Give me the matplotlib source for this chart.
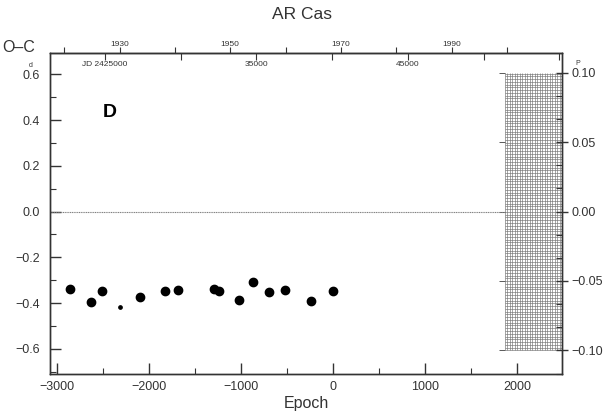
import matplotlib
matplotlib.use('Agg')
import matplotlib.pyplot as plt
import numpy as np
from matplotlib.ticker import MultipleLocator, FixedLocator, FixedFormatter, FuncFormatter

plt.rcParams['font.family'] = ['Liberation Sans', 'DejaVu Sans']

# ephemeris used for the O-C values
period = 6.0663
t0 = 2440070.0

# times of minima (epoch, O-C in days)
epoch = [-2859, -2634, -2514, -2105, -1834, -1685, -1297, -1236,
         -1025, -873, -699, -518, -239, 3]
oc = [-0.337, -0.395, -0.347, -0.375, -0.345, -0.341, -0.340, -0.345,
      -0.385, -0.308, -0.353, -0.341, -0.389, -0.348]
# low weight minimum
epoch_low = [-2323]
oc_low = [-0.415]

epoch_ticks = [-3000, -2000, -1000, 0, 1000, 2000]
oc_ticks = [-0.6, -0.4, -0.2, 0.0, 0.2, 0.4, 0.6]
oc_labels = ['\u22120.6', '\u22120.4', '\u22120.2', '0.0', '0.2', '0.4', '0.6']
phase_ticks = [-0.10, -0.05, 0.0, 0.05, 0.10]
phase_labels = ['\u22120.10', '\u22120.05', '0.00', '0.05', '0.10']
jd_ticks = [2425000, 2435000, 2445000]
jd_labels = ['JD 2425000', '35000', '45000']
jd_minor = [2430000, 2440000, 2450000, 2455000]
year_ticks = [1930, 1950, 1970, 1990]
year_minor = [1920, 1940, 1960, 1980, 2000, 2010]


def e2jd(e):
    return t0 + period * np.asarray(e, dtype=float)


def jd2e(jd):
    return (np.asarray(jd, dtype=float) - t0) / period


def e2yr(e):
    return 1900.0 + (e2jd(e) - 2415020.5) / 365.25


def yr2e(y):
    return jd2e(2415020.5 + (np.asarray(y, dtype=float) - 1900.0) * 365.25)


fig = plt.figure(figsize=(6.05, 4.17), dpi=100)
ax = fig.add_axes([0.0826, 0.103, 0.8463, 0.771])
ax.set_xlim(-3080, 2490)
ax.set_ylim(-0.71, 0.695)

ink = '#333333'
for s in ax.spines.values():
    s.set_color(ink)
    s.set_linewidth(1.0)

# hatched block of the prediction area
grid_x0, grid_x1 = 1870, 2490
gy = 0.10 * period
ax.vlines(np.arange(grid_x0, grid_x1, 27), -gy, gy, color='0.45', lw=0.45, zorder=1)
ax.hlines(np.arange(-gy, gy + 1e-6, 0.0121), grid_x0, grid_x1, color='0.45', lw=0.45, zorder=1)
ax.hlines(np.array(phase_ticks) * period, grid_x0 - 60, grid_x0, color='0.35', lw=0.7)

# zero line
xmin, xmax = ax.get_xlim()
ax.axhline(0.0, xmin=0, xmax=(grid_x0 - xmin) / (xmax - xmin), color='0.5', lw=0.8, ls=(0, (1, 0.6)))

ax.plot(epoch, oc, 'o', color='black', ms=6, zorder=3)
ax.plot(epoch_low, oc_low, 'o', color='black', ms=2.4, zorder=3)

ax.xaxis.set_major_locator(FixedLocator(epoch_ticks))
ax.xaxis.set_major_formatter(FuncFormatter(lambda v, p: f'{v:.0f}'.replace('-', '\u2212')))
ax.xaxis.set_minor_locator(MultipleLocator(500))
ax.yaxis.set_major_locator(FixedLocator(oc_ticks))
ax.yaxis.set_major_formatter(FixedFormatter(oc_labels))
ax.yaxis.set_minor_locator(MultipleLocator(0.1))
ax.tick_params(which='both', direction='in', top=False, right=False, colors=ink, labelsize=9)
ax.tick_params(which='major', length=8, width=1.0)
ax.tick_params(which='minor', length=4, width=0.8)
ax.tick_params(axis='x', pad=5)
ax.tick_params(axis='y', pad=7)

# units marks over the decimal points
ax.annotate('d', xy=(0, oc_ticks[-1]), xycoords=('axes fraction', 'data'),
            xytext=(-19, 9), textcoords='offset pixels', fontsize=5, color=ink,
            ha='center', va='center')

# phase axis on the right
ax2 = ax.twinx()
ax2.set_ylim(np.array(ax.get_ylim()) / period)
ax2.yaxis.set_major_locator(FixedLocator(phase_ticks))
ax2.yaxis.set_major_formatter(FixedFormatter(phase_labels))
ax2.yaxis.set_minor_locator(MultipleLocator(0.05 / 3))
ax2.tick_params(which='major', direction='inout', length=9, width=1.0, colors=ink, labelsize=9, pad=2)
ax2.tick_params(which='minor', direction='in', length=4, width=0.8, colors=ink)
for s in ax2.spines.values():
    s.set_color(ink)
    s.set_linewidth(1.0)
ax2.annotate('P', xy=(1, phase_ticks[-1]), xycoords=('axes fraction', 'data'),
             xytext=(16, 9), textcoords='offset pixels', fontsize=5, color=ink,
             ha='center', va='center')

# JD scale, inside the top edge
axj = ax.secondary_xaxis('top', functions=(e2jd, jd2e))
axj.xaxis.set_major_locator(FixedLocator(jd_ticks))
axj.xaxis.set_major_formatter(FixedFormatter(jd_labels))
axj.xaxis.set_minor_locator(FixedLocator(jd_minor))
axj.tick_params(which='both', direction='in', length=5, width=0.8, colors=ink, labelsize=6, pad=-11)
axj.spines['top'].set_color(ink)

# calendar years, outside the top edge
axy = ax.secondary_xaxis('top', functions=(e2yr, yr2e))
axy.xaxis.set_major_locator(FixedLocator(year_ticks))
axy.xaxis.set_major_formatter(FuncFormatter(lambda v, p: f'{v:.0f}'))
axy.xaxis.set_minor_locator(FixedLocator(year_minor))
axy.tick_params(which='both', direction='out', length=4, width=0.8, colors=ink, labelsize=6, pad=-1)
axy.spines['top'].set_color(ink)

fig.text(0.5, 0.965, 'AR Cas', ha='center', va='center', fontsize=12.5, color=ink)
fig.text(0.003, 0.885, 'O\u2013C', ha='left', va='center', fontsize=11.5, color=ink)
ax.text(0.104, 0.815, 'D', transform=ax.transAxes, fontsize=14, fontweight='bold', ha='left', va='center')
ax.set_xlabel('Epoch', fontsize=11.5, color=ink, labelpad=2)

fig.savefig('out.png', dpi=100)
